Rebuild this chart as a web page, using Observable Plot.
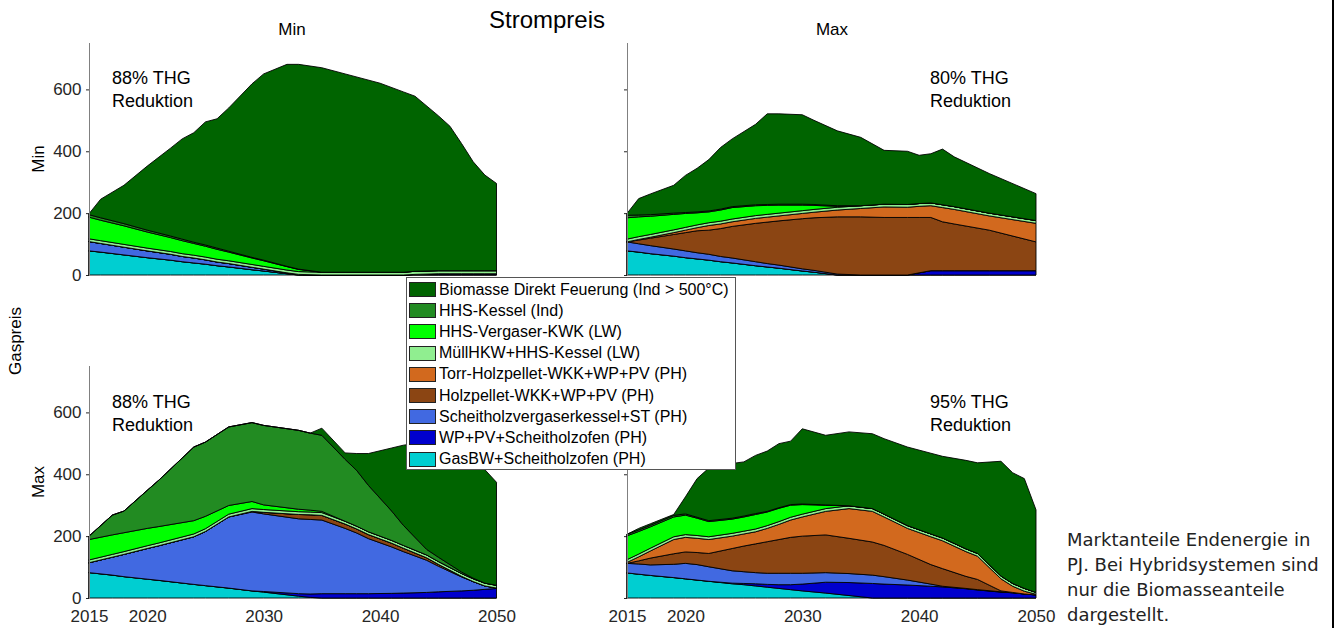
<!DOCTYPE html>
<html><head><meta charset="utf-8">
<script src="https://cdn.jsdelivr.net/npm/d3@7"></script>
<script src="https://cdn.jsdelivr.net/npm/@observablehq/plot@0.6"></script>
<style>
body{margin:0;background:#fff;}
#root{position:relative;width:1340px;height:628px;overflow:hidden;background:#fff;font-family:"Liberation Sans",Arial,sans-serif;color:#000;}
.abs{position:absolute;white-space:nowrap;}
.c{transform:translate(-50%,-50%);}
.rot{transform:translate(-50%,-50%) rotate(-90deg);}
.note{font-size:18px;line-height:22.5px;color:#000;}
#legend{position:absolute;left:406px;top:277px;width:328px;height:191px;border:1px solid #555;background:#fff;}
.lrow{position:absolute;left:0;width:326px;height:21px;}
.sw{position:absolute;left:2px;top:2.5px;width:25px;height:13px;border:1px solid #222;}
.lt{position:absolute;left:32px;top:0;font-size:16px;line-height:19px;white-space:nowrap;}
#caption{position:absolute;left:1067px;top:527px;font-family:"DejaVu Sans",sans-serif;font-size:18px;line-height:25px;color:#222;white-space:nowrap;}
</style></head><body><div id="root"></div>
<script>
// series (stack order, bottom -> top)
const seriesNames = [
  "GasBW+Scheitholzofen (PH)",
  "WP+PV+Scheitholzofen (PH)",
  "Scheitholzvergaserkessel+ST (PH)",
  "Holzpellet-WKK+WP+PV (PH)",
  "Torr-Holzpellet-WKK+WP+PV (PH)",
  "MüllHKW+HHS-Kessel (LW)",
  "HHS-Vergaser-KWK (LW)",
  "HHS-Kessel (Ind)",
  "Biomasse Direkt Feuerung (Ind > 500°C)"
];
const seriesColors = ["#00CED1","#0000CD","#4169E1","#8B4513","#D2691E","#90EE90","#00FF00","#228B22","#006400"];
const xTicks = [2015, 2020, 2030, 2040, 2050];
const yTicks = [0, 200, 400, 600];
const xDomain = [2015, 2050];
const yDomain = [0, 750];

// ---- Gaspreis Min / Strompreis Min (88% THG)
const years_TL = [2015,2016,2018,2020,2022,2023,2024,2025,2026,2027,2029,2030,2032,2033,2035,2037,2040,2042,2043,2045,2046,2047,2048,2049,2050];
const TL_gas    = [78,74,65,56,48,43,39,35,30,26,17,13,4,0,0,0,0,0,0,0,0,0,0,0,0];
const TL_wp     = [0,0,0,0,0,0,0,0,0,0,0,0,0,0,0,0,0,0,2,4,4,4,4,4,4];
const TL_sch    = [30,28,25,22,19,17,16,14,12,11,8,6,3,2,0,0,0,0,0,0,0,0,0,0,0];
const TL_hp     = [0,0,0,0,0,0,0,0,0,0,0,0,0,0,0,0,0,0,0,0,0,0,0,0,0];
const TL_torr   = [0,0,0,0,0,0,0,0,0,0,0,0,0,0,0,0,0,0,0,0,0,0,0,0,0];
const TL_mull   = [9,9,9,9,9,9,9,9,9,9,9,9,9,9,9,9,9,9,10,10,10,10,10,10,10];
const TL_vkwk   = [70,66,60,52,45,42,38,35,32,28,21,18,11,7,0,0,0,0,0,0,0,0,0,0,0];
const TL_kessel = [8,8,7,6,5,5,4,4,4,3,2,2,1,1,0,0,0,0,0,0,0,0,0,0,0];
const TL_bio    = [3,60,124,207,284,324,354,398,418,463,561,602,653,662,661,641,611,583,566,501,467,411,352,309,282];

// ---- Gaspreis Min / Strompreis Max (80% THG)
const years_TR = [2015,2016,2017,2019,2020,2021,2022,2023,2024,2026,2027,2028,2030,2031,2033,2035,2037,2039,2040,2041,2042,2043,2046,2050];
const TR_gas    = [78,74,69,61,56,52,48,43,39,30,26,22,13,9,0,0,0,0,0,0,0,0,0,0];
const TR_wp     = [0,0,0,0,0,0,0,0,0,0,0,0,0,0,0,0,0,0,7,14,14,14,14,14];
const TR_sch    = [29,27,26,23,22,20,19,17,16,13,11,10,7,6,3,0,0,0,0,0,0,0,0,0];
const TR_hp     = [0,12,24,47,59,71,78,90,102,124,134,143,162,170,185,188,186,186,179,172,158,151,131,93];
const TR_torr   = [0,2,3,6,8,10,15,15,15,16,16,16,17,18,22,27,34,33,36,38,46,47,46,60];
const TR_mull   = [9,9,9,9,9,9,9,9,9,9,9,9,9,9,9,9,9,9,9,9,9,9,9,9];
const TR_vkwk   = [69,64,59,50,45,39,35,36,37,32,29,26,18,13,3,0,0,0,0,0,0,0,0,0];
const TR_kessel = [8,6,5,4,3,3,3,3,3,3,3,3,3,3,2,0,0,0,0,0,0,0,0,0];
const TR_bio    = [6,53,67,90,120,141,166,199,219,260,293,292,289,272,242,221,174,172,156,159,180,161,128,87];

// ---- Gaspreis Max / Strompreis Min (88% THG)
const years_BL = [2015,2017,2018,2020,2021,2024,2025,2027,2029,2030,2033,2034,2035,2037,2038,2039,2041,2042,2044,2045,2047,2048,2049,2050];
const BL_gas    = [82,74,69,61,57,44,40,32,23,19,6,2,0,0,0,0,0,0,0,0,0,0,0,0];
const BL_wp     = [0,0,0,0,0,0,0,0,0,2,8,11,14,14,14,14,15,16,18,20,23,25,28,31];
const BL_sch    = [32,58,72,99,112,154,175,230,255,251,242,241,238,211,196,178,150,134,104,83,45,28,11,1];
const BL_hp     = [0,0,0,0,0,0,0,0,2,5,14,15,15,14,13,13,12,11,8,6,2,0,0,0];
const BL_torr   = [0,0,0,0,0,0,0,0,0,0,0,0,0,0,0,0,0,0,0,0,0,0,0,0];
const BL_mull   = [9,9,9,9,9,9,9,9,9,9,9,9,9,9,9,9,9,9,9,9,9,9,9,9];
const BL_vkwk   = [66,63,61,56,53,43,40,28,23,15,8,6,4,0,0,0,0,0,0,0,0,0,0,0];
const BL_kessel = [11,64,70,123,150,238,240,254,255,257,255,249,246,200,180,150,95,65,18,14,5,2,0,0];
const BL_bio    = [0,0,0,0,0,0,0,0,0,0,0,0,23,21,55,103,204,259,348,373,406,391,367,333];

// ---- Gaspreis Max / Strompreis Max (95% THG)
const years_BR = [2015,2016,2017,2019,2020,2021,2022,2024,2025,2026,2027,2028,2029,2030,2032,2034,2036,2037,2039,2041,2042,2044,2045,2047,2048,2049,2050];
const BR_gas    = [81,77,73,66,62,58,54,46,43,39,35,31,27,23,16,8,0,0,0,0,0,0,0,0,0,0,0];
const BR_wp     = [0,0,0,0,0,0,0,2,4,7,9,12,16,22,35,42,47,45,42,38,36,30,26,19,17,13,10];
const BR_sch    = [31,33,34,43,50,50,47,40,38,36,36,37,37,35,31,29,27,24,16,7,2,1,1,1,0,0,0];
const BR_hp     = [0,10,22,34,37,39,43,72,83,93,102,109,116,120,122,114,107,101,83,63,57,39,33,3,1,0,0];
const BR_torr   = [3,13,23,46,47,46,45,40,39,39,43,49,56,62,76,96,99,92,84,90,90,80,75,39,20,9,2];
const BR_mull   = [9,9,9,9,9,9,9,9,9,9,9,9,9,9,9,9,9,9,9,9,9,9,9,9,9,9,6];
const BR_vkwk   = [77,73,69,64,63,56,49,46,46,47,44,43,39,31,11,0,0,0,0,0,0,0,0,0,0,0,0];
const BR_kessel = [5,5,5,5,4,3,3,3,3,3,2,2,2,2,1,0,0,0,0,0,0,0,0,0,0,0,0];
const BR_bio    = [0,5,5,3,55,125,170,177,175,188,195,207,205,243,225,239,242,244,254,261,264,286,293,371,358,355,267];

const panelTexts = ["88% THG", "80% THG", "88% THG", "95% THG"];
const legendOrder = seriesNames.slice().reverse();

const root = document.getElementById("root");

function rowsOf(years, cols) {
  const out = [];
  seriesNames.forEach((name, k) => years.forEach((yr, i) => out.push({year: yr, value: cols[k][i], series: name})));
  return out;
}

function panel(years, cols, showY, showX, frameW) {
  const data = rowsOf(years, cols);
  return Plot.plot({
    width: 50 + frameW + 5,
    height: showX ? 267 : 242,
    marginLeft: 50, marginRight: 5, marginTop: 5, marginBottom: showX ? 30 : 5,
    style: {fontFamily: "'Liberation Sans', Arial, sans-serif", fontSize: "17px", color: "#262626", background: "transparent", overflow: "visible"},
    x: {domain: xDomain, label: null, ticks: xTicks, tickSize: 0, tickPadding: 11, tickFormat: d => String(d), axis: showX ? "bottom" : null},
    y: {domain: yDomain, label: null, ticks: yTicks, tickSize: 3, tickPadding: 5, tickFormat: showY ? (d => String(d)) : (() => "")},
    color: {domain: seriesNames, range: seriesColors},
    marks: [
      Plot.areaY(data, {x: "year", y: "value", z: "series", fill: "series", order: seriesNames, stroke: "#000", strokeWidth: 0.9, strokeLinejoin: "round"}),
      Plot.ruleX([years[0]], {stroke: "#808080", strokeWidth: 1})
    ]
  });
}

function place(el, left, top) {
  const d = document.createElement("div");
  d.className = "abs";
  d.style.left = left + "px"; d.style.top = top + "px";
  d.appendChild(el);
  root.appendChild(d);
  return d;
}

place(panel(years_TL, [TL_gas,TL_wp,TL_sch,TL_hp,TL_torr,TL_mull,TL_vkwk,TL_kessel,TL_bio], true, false, 407.5), 38.5, 38);
place(panel(years_TR, [TR_gas,TR_wp,TR_sch,TR_hp,TR_torr,TR_mull,TR_vkwk,TR_kessel,TR_bio], false, false, 409), 577, 38);
place(panel(years_BL, [BL_gas,BL_wp,BL_sch,BL_hp,BL_torr,BL_mull,BL_vkwk,BL_kessel,BL_bio], true, true, 407.5), 38.5, 361);
place(panel(years_BR, [BR_gas,BR_wp,BR_sch,BR_hp,BR_torr,BR_mull,BR_vkwk,BR_kessel,BR_bio], false, true, 409), 577, 361);

function label(text, x, y, cls, size) {
  const d = document.createElement("div");
  d.className = "abs " + cls;
  d.style.left = x + "px"; d.style.top = y + "px";
  d.style.fontSize = size + "px";
  d.textContent = text;
  root.appendChild(d);
}
label("Strompreis", 547, 20, "c", 24);
label("Min", 292, 30, "c", 17);
label("Max", 832, 30, "c", 17);
label("Min", 39, 159, "rot", 17);
label("Max", 39, 482, "rot", 17);
label("Gaspreis", 16, 341, "rot", 17);

const notePos = [[112, 67], [930, 67], [112, 391], [930, 391]];
panelTexts.forEach((t, i) => {
  const d = document.createElement("div");
  d.className = "abs note";
  d.style.left = notePos[i][0] + "px"; d.style.top = notePos[i][1] + "px";
  d.innerHTML = t + "<br>Reduktion";
  root.appendChild(d);
});

// legend
const lg = document.createElement("div");
lg.id = "legend";
legendOrder.forEach((name, i) => {
  const r = document.createElement("div");
  r.className = "lrow";
  r.style.top = (1.5 + i * 21.2) + "px";
  const sw = document.createElement("div");
  sw.className = "sw";
  sw.style.background = seriesColors[seriesNames.indexOf(name)];
  const t = document.createElement("div");
  t.className = "lt";
  t.textContent = name;
  r.appendChild(sw); r.appendChild(t);
  lg.appendChild(r);
});
root.appendChild(lg);

// caption
const cap = document.createElement("div");
cap.id = "caption";
cap.innerHTML = "Marktanteile Endenergie in<br>PJ. Bei Hybridsystemen sind<br>nur die Biomasseanteile<br>dargestellt.";
root.appendChild(cap);

// slide frame line on the right
const fr = document.createElement("div");
fr.className = "abs";
fr.style.cssText = "left:1332px;top:0;width:2px;height:628px;background:#000;";
root.appendChild(fr);
</script>
</body></html>
